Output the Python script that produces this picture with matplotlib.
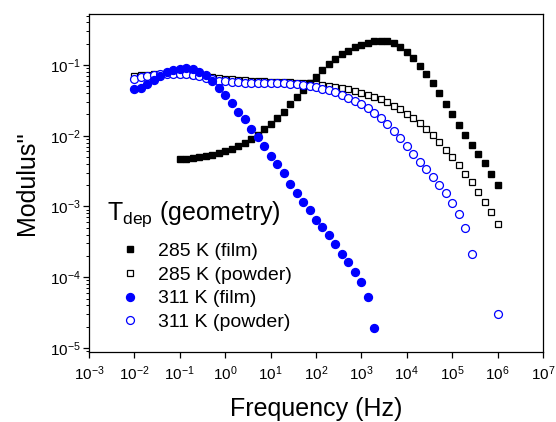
import matplotlib
matplotlib.use('Agg')
import matplotlib.pyplot as plt
from matplotlib.lines import Line2D

plt.rcParams['font.family'] = ['Liberation Sans', 'DejaVu Sans']
plt.rcParams['mathtext.fontset'] = 'custom'
plt.rcParams['mathtext.rm'] = 'Liberation Sans'
plt.rcParams['mathtext.it'] = 'Liberation Sans:italic'

# measurement frequencies (Hz), 7 points per decade
freq = [0.01, 0.0139, 0.0193, 0.0268, 0.0373, 0.0518, 0.072,
        0.1, 0.139, 0.193, 0.268, 0.373, 0.518, 0.72,
        1, 1.39, 1.93, 2.68, 3.73, 5.18, 7.2,
        10, 13.9, 19.3, 26.8, 37.3, 51.8, 72,
        100, 139, 193, 268, 373, 518, 720,
        1e3, 1.39e3, 1.93e3, 2.68e3, 3.73e3, 5.18e3, 7.2e3,
        1e4, 1.39e4, 1.93e4, 2.68e4, 3.73e4, 5.18e4, 7.2e4,
        1e5, 1.39e5, 1.93e5, 2.68e5, 3.73e5, 5.18e5, 7.2e5,
        1e6]

# 285 K film: 0.1 Hz .. 1 MHz
m_285_film = [4.64e-3, 4.69e-3, 4.80e-3, 4.96e-3, 5.18e-3, 5.40e-3, 5.70e-3, 6.08e-3, 6.56e-3, 7.16e-3,
              7.98e-3, 9.0e-3, 1.035e-2, 1.23e-2, 1.47e-2, 1.76e-2, 2.19e-2, 2.78e-2, 3.49e-2, 4.43e-2,
              5.51e-2, 6.84e-2, 8.5e-2, 0.103, 0.122, 0.142, 0.159, 0.178, 0.194, 0.207,
              0.216, 0.220, 0.216, 0.203, 0.181, 0.154, 0.124, 0.0968, 0.0746, 0.0551,
              0.0398, 0.0281, 0.0201, 0.0143, 0.01025, 7.40e-3, 5.52e-3, 4.08e-3, 2.88e-3, 2.01e-3]

# 285 K powder: 0.01 Hz .. 1 MHz
m_285_powder = [0.0699, 0.0714, 0.0730, 0.0746, 0.0754, 0.0762, 0.0762, 0.0754, 0.0746, 0.0730,
                0.0714, 0.0692, 0.0670, 0.0656, 0.0641, 0.0627, 0.0614, 0.0607, 0.0601, 0.0594,
                0.0588, 0.0581, 0.0575, 0.0575, 0.0569, 0.0563, 0.0557, 0.0551, 0.0539, 0.0527,
                0.0510, 0.0494, 0.0473, 0.0453, 0.0430, 0.0407, 0.0381, 0.0357, 0.0327, 0.0297,
                0.0266, 0.0236, 0.0205, 0.0176, 0.0150, 0.0125, 0.01025, 8.07e-3, 6.29e-3, 4.96e-3,
                3.86e-3, 2.88e-3, 2.20e-3, 1.59e-3, 1.17e-3, 8.27e-4, 5.66e-4]

# 311 K film: 0.01 Hz .. ~2 kHz
m_311_film = [0.0453, 0.0478, 0.0539, 0.0614, 0.0699, 0.0788, 0.0850, 0.0887, 0.0897, 0.0868,
              0.0805, 0.0714, 0.0594, 0.0478, 0.0372, 0.0287, 0.0219, 0.0171, 0.01245, 9.70e-3,
              7.24e-3, 5.18e-3, 3.99e-3, 2.94e-3, 2.06e-3, 1.57e-3, 1.17e-3, 8.93e-4, 6.45e-4, 5.19e-4,
              3.95e-4, 2.95e-4, 2.13e-4, 1.66e-4, 1.20e-4, 8.67e-5, 5.32e-5, 1.90e-5]

# 311 K powder: 0.01 Hz .. 1 MHz (three points missing near 1 MHz)
m_311_powder = [0.0627, 0.0670, 0.0699, 0.0722, 0.0738, 0.0746, 0.0746, 0.0746, 0.0738, 0.0722,
                0.0699, 0.0662, 0.0627, 0.0601, 0.0588, 0.0575, 0.0569, 0.0563, 0.0557, 0.0551,
                0.0551, 0.0551, 0.0551, 0.0551, 0.0545, 0.0539, 0.0527, 0.0505, 0.0483, 0.0463,
                0.0439, 0.0411, 0.0377, 0.0345, 0.0313, 0.0278, 0.0244, 0.0210, 0.0176, 0.0145,
                0.01167, 9.19e-3, 7.16e-3, 5.52e-3, 4.30e-3, 3.39e-3, 2.64e-3, 2.01e-3, 1.53e-3, 1.13e-3,
                7.75e-4, 5.02e-4, 2.13e-4, 3.03e-5]

f_285_film = freq[7:]
f_285_powder = freq
f_311_film = freq[:38]
f_311_powder = freq[:53] + [freq[56]]

labels = ['285 K (film)', '285 K (powder)', '311 K (film)', '311 K (powder)']

fig = plt.figure(figsize=(5.56, 4.22), dpi=100)
ax = fig.add_axes([89 / 556, 1 - 352 / 422, 454 / 556, 338 / 422])

sq = 4.9
ci = 5.7
ax.plot(f_285_powder, m_285_powder, ls='none', marker='s', ms=sq, mfc='white', mec='black', mew=0.9)
ax.plot(f_285_film, m_285_film, ls='none', marker='s', ms=sq, color='black')
ax.plot(f_311_powder, m_311_powder, ls='none', marker='o', ms=ci, mfc='white', mec='#0000ff', mew=0.9)
ax.plot(f_311_film, m_311_film, ls='none', marker='o', ms=ci, color='#0000ff')

ax.set_xscale('log')
ax.set_yscale('log')
ax.set_xlim(1e-3, 1e7)
ax.set_ylim(8.77e-6, 0.526)
ax.set_xticks([10.0 ** k for k in range(-3, 8)])
ax.set_yticks([10.0 ** k for k in range(-5, 0)])

ax.tick_params(which='both', direction='out', top=False, right=False, labelsize=11)
ax.tick_params(which='major', length=4, width=0.9, pad=2)
ax.tick_params(which='minor', length=2.2, width=0.7)
ax.tick_params(axis='x', which='major', pad=5)
for s in ax.spines.values():
    s.set_linewidth(0.9)

ax.set_xlabel('Frequency (Hz)', fontsize=18, labelpad=10)
ax.set_ylabel("Modulus''", fontsize=18, labelpad=8)

handles = [
    Line2D([], [], ls='none', marker='s', ms=sq, color='black'),
    Line2D([], [], ls='none', marker='s', ms=sq, mfc='white', mec='black', mew=0.9),
    Line2D([], [], ls='none', marker='o', ms=ci, color='#0000ff'),
    Line2D([], [], ls='none', marker='o', ms=ci, mfc='white', mec='#0000ff', mew=0.9),
]
ax.legend(handles, labels, loc='upper left', bbox_to_anchor=(0.069, 0.325), frameon=False,
          fontsize=14, handlelength=1.0, handletextpad=0.93, labelspacing=0.32,
          borderpad=0, borderaxespad=0)
ax.text(0.040, 0.408, r'$\mathrm{T_{dep}}$ (geometry)', transform=ax.transAxes,
        fontsize=18, va='center', ha='left')

fig.savefig('out.png', dpi=100)
